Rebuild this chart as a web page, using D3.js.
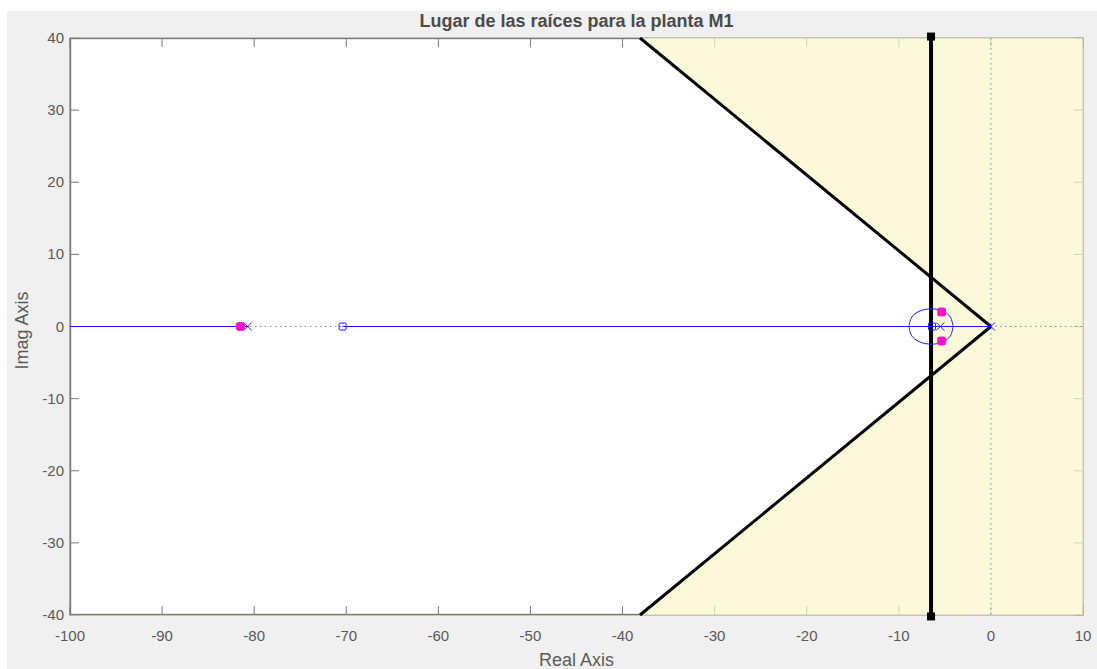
<!DOCTYPE html>
<html>
<head>
<meta charset="utf-8">
<script src="https://cdn.jsdelivr.net/npm/d3@7"></script>
<style>
  html, body { margin: 0; padding: 0; background: #ffffff; }
  svg { display: block; }
  text { font-family: "Liberation Sans", Arial, Helvetica, sans-serif; }
</style>
</head>
<body>
<script>
// ---------- data ----------
const xTicks = [-100, -90, -80, -70, -60, -50, -40, -30, -20, -10, 0, 10];
const yTicks = [-40, -30, -20, -10, 0, 10, 20, 30, 40];
const xDomain = [-100, 10];
const yDomain = [-40, 40];

// open-loop poles (x) and zeros (o)
const poleRe = [-80.7, -5.5, 0];
const poleIm = [0, 0, 0];
const zeroRe = [-70.4, -6.4];
const zeroIm = [0, 0];

// closed-loop poles for the chosen gain (magenta)
const clRe = [-81.5, -5.35, -5.35];
const clIm = [0, 2.0, -2.0];

// root locus branches (real axis segments and complex loop)
const branchLeft = [[-100, 0], [-80.7, 0]];
const branchRight = [[-70.4, 0], [0, 0]];
const loopUpper = [[-8.9, 0], [-8.6, 1.3], [-7.8, 2.1], [-6.5, 2.45], [-5.2, 2.15], [-4.4, 1.3], [-4.1, 0]];
const loopLower = [[-8.9, 0], [-8.6, -1.3], [-7.8, -2.1], [-6.5, -2.45], [-5.2, -2.15], [-4.4, -1.3], [-4.1, 0]];

// design region boundaries (damping-ratio rays and settling-time line)
const zetaUpper = [[0, 0], [-38.1, 40]];
const zetaLower = [[0, 0], [-38.1, -40]];
const sigmaLine = [[-6.5, 40.2], [-6.5, -40.2]];
const whiteRegion = [[-6.5, 6.82], [-38.1, 40], [-100, 40], [-100, -40], [-38.1, -40], [-6.5, -6.82]];

const titleText = "Lugar de las raíces para la planta M1";
const xLabel = "Real Axis";
const yLabel = "Imag Axis";

// ---------- layout ----------
const W = 1097, H = 669;
const plot = { left: 70, right: 1083, top: 38, bottom: 615 };

const svg = d3.select("body").append("svg").attr("width", W).attr("height", H);

svg.append("rect").attr("x", 7).attr("y", 11).attr("width", W - 7).attr("height", H - 11).attr("fill", "#f0f0f0");

const x = d3.scaleLinear().domain(xDomain).range([plot.left, plot.right]);
const y = d3.scaleLinear().domain(yDomain).range([plot.bottom, plot.top]);
const line = d3.line().x(d => x(d[0])).y(d => y(d[1]));

// plot background
svg.append("rect").attr("x", plot.left).attr("y", plot.top)
  .attr("width", plot.right - plot.left).attr("height", plot.bottom - plot.top).attr("fill", "#ffffff");

const axisColor = "#7a7a7a";
const tickLen = 9;

function drawAxes(g, strokeW) {
  g.append("rect").attr("x", plot.left).attr("y", plot.top)
    .attr("width", plot.right - plot.left).attr("height", plot.bottom - plot.top)
    .attr("fill", "none").attr("stroke", axisColor).attr("stroke-width", strokeW);
  xTicks.forEach(t => {
    g.append("line").attr("x1", x(t)).attr("x2", x(t)).attr("y1", plot.bottom).attr("y2", plot.bottom - tickLen).attr("stroke", axisColor);
    g.append("line").attr("x1", x(t)).attr("x2", x(t)).attr("y1", plot.top).attr("y2", plot.top + tickLen).attr("stroke", axisColor);
  });
  yTicks.forEach(t => {
    g.append("line").attr("y1", y(t)).attr("y2", y(t)).attr("x1", plot.left).attr("x2", plot.left + tickLen).attr("stroke", axisColor);
    g.append("line").attr("y1", y(t)).attr("y2", y(t)).attr("x1", plot.right).attr("x2", plot.right - tickLen).attr("stroke", axisColor);
  });
}

// axes beneath the translucent region
drawAxes(svg.append("g"), 1.2);

// design region (translucent yellow everywhere except the allowed white area)
svg.append("rect").attr("x", plot.left).attr("y", plot.top - 0.5)
  .attr("width", plot.right - plot.left + 0.5).attr("height", plot.bottom - plot.top + 1)
  .attr("fill", "#f8f8cc").attr("fill-opacity", 0.7);
svg.append("path").datum(whiteRegion).attr("d", d => line(d) + "Z").attr("fill", "#ffffff");

// axes visible at full strength in the white area
svg.append("clipPath").attr("id", "whiteclip")
  .append("path").datum(whiteRegion).attr("d", d => line(d) + "Z");
drawAxes(svg.append("g").attr("clip-path", "url(#whiteclip)"), 2.4);

// dotted axis lines at x=0 and y=0
svg.append("line").attr("x1", x(0)).attr("x2", x(0)).attr("y1", plot.top).attr("y2", plot.bottom)
  .attr("stroke", "#8a8a8a").attr("stroke-width", 1).attr("stroke-dasharray", "1.5,3.5");
svg.append("line").attr("x1", plot.left).attr("x2", plot.right).attr("y1", y(0)).attr("y2", y(0))
  .attr("stroke", "#8a8a8a").attr("stroke-width", 1).attr("stroke-dasharray", "1.5,3.5");

// design boundary lines
[zetaUpper, zetaLower].forEach(seg => {
  svg.append("path").datum(seg).attr("d", line).attr("fill", "none").attr("stroke", "#000").attr("stroke-width", 3);
});
svg.append("path").datum(sigmaLine).attr("d", line).attr("fill", "none").attr("stroke", "#000").attr("stroke-width", 4);
sigmaLine.forEach(p => {
  svg.append("rect").attr("x", x(p[0]) - 4).attr("y", y(p[1]) - 4).attr("width", 8).attr("height", 8).attr("fill", "#000");
});

// root locus
const blue = "#1a1aff";
[branchLeft, branchRight].forEach(b => {
  svg.append("path").datum(b).attr("d", line).attr("fill", "none").attr("stroke", blue).attr("stroke-width", 1);
});
const curve = d3.line().x(d => x(d[0])).y(d => y(d[1])).curve(d3.curveCatmullRom);
[loopUpper, loopLower].forEach(b => {
  svg.append("path").datum(b).attr("d", curve).attr("fill", "none").attr("stroke", blue).attr("stroke-width", 1);
});

// poles (x)
poleRe.forEach((re, i) => {
  const cx = x(re), cy = y(poleIm[i]), s = 4;
  svg.append("path").attr("d", `M${cx - s},${cy - s}L${cx + s},${cy + s}M${cx - s},${cy + s}L${cx + s},${cy - s}`)
    .attr("stroke", blue).attr("stroke-width", 1).attr("fill", "none");
});
// zeros
zeroRe.forEach((re, i) => {
  svg.append("rect").attr("x", x(re) - 3.5).attr("y", y(zeroIm[i]) - 3.5).attr("width", 7).attr("height", 7)
    .attr("rx", 1).attr("fill", "none").attr("stroke", blue).attr("stroke-width", 1);
});
// closed-loop poles
clRe.forEach((re, i) => {
  svg.append("rect").attr("x", x(re) - 4.5).attr("y", y(clIm[i]) - 4.5).attr("width", 9).attr("height", 9)
    .attr("rx", 3).attr("fill", "#ff14c8");
});

// tick labels
const labColor = "#5a5a5a";
xTicks.forEach(t => {
  svg.append("text").attr("x", x(t)).attr("y", plot.bottom + 26).attr("text-anchor", "middle")
    .attr("font-size", 15).attr("fill", labColor).text(t);
});
yTicks.forEach(t => {
  svg.append("text").attr("x", plot.left - 6).attr("y", y(t) + 5).attr("text-anchor", "end")
    .attr("font-size", 15).attr("fill", labColor).text(t);
});

// labels & title
svg.append("text").attr("x", (plot.left + plot.right) / 2).attr("y", 666).attr("text-anchor", "middle")
  .attr("font-size", 18).attr("fill", labColor).text(xLabel);
svg.append("text").attr("transform", `translate(28,${(plot.top + plot.bottom) / 2 + 4}) rotate(-90)`)
  .attr("text-anchor", "middle").attr("font-size", 18).attr("fill", labColor).text(yLabel);
svg.append("text").attr("x", (plot.left + plot.right) / 2).attr("y", 27).attr("text-anchor", "middle")
  .attr("font-size", 18).attr("font-weight", "bold").attr("fill", "#4a4a4a").text(titleText);
</script>
</body>
</html>
